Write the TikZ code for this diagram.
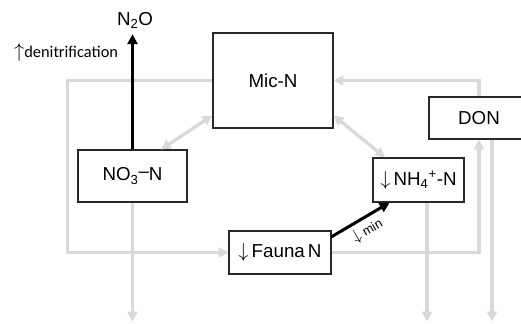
\documentclass[tikz,border=0pt]{standalone}
\usepackage{fontspec}
\setmainfont{Liberation Sans}
\newfontfamily\labelfont{Carlito}
\usepackage{tikz}
\usetikzlibrary{arrows.meta,positioning,calc}
\definecolor{flowgrey}{RGB}{217,217,217}
\definecolor{boxline}{RGB}{40,40,40}

\begin{document}
\begin{tikzpicture}[x=0.3mm,y=-0.3mm,
  box/.style={draw=boxline,line width=0.9pt,fill=white,inner sep=0pt,font=\fontsize{16}{19}\selectfont},
  flow/.style={flowgrey,line width=2.8pt,>={Triangle[length=8.5pt,width=8.5pt]}},
  flux/.style={black,line width=2.6pt,>={Triangle[length=8.5pt,width=8.5pt]}}]
\useasboundingbox (0,0) rectangle (521,323);
% pools
\node[box,minimum width=36mm,minimum height=28.5mm] (mic) at (273,80.5) {Mic-N};
\node[box,minimum width=30mm,minimum height=12.6mm] (don) at (479,118) {DON};
\node[box,minimum width=32.7mm,minimum height=15.6mm] (no3) at (132.5,176) {NO\textsubscript{3}\raisebox{.35ex}{--}N};
\node[box,minimum width=27.3mm,minimum height=13.2mm] (nh4) at (418.5,180) {$\downarrow$\,NH\textsubscript{4}\textsuperscript{+}-N};
\node[box,minimum width=30.6mm,minimum height=12.9mm] (fauna) at (280,252.5) {$\downarrow$\,Fauna\,N};
\node[font=\fontsize{16}{19}\selectfont,anchor=base,inner sep=1pt] (n2o) at (135,25) {N\textsubscript{2}O};
\node[font=\labelfont\fontsize{14}{17}\selectfont,anchor=base west,inner sep=0pt] (denit) at (14,57) {{\fontsize{17}{17}\selectfont$\uparrow$}denitrification};
% grey fluxes
\draw[flow,->] (mic.west) -- ++(-145,0) |- (fauna.west);
\draw[flow,->] (no3.south) -- ++(0,119);
\draw[flow,<->] (no3.43) -- (mic.210);
\draw[flow,<->] (mic.330) -- (nh4.146);
\draw[flow,->] (don.north) |- (mic.east);
\draw[flow,->] (fauna.east) -| (don.south);
\draw[flow,->] ($(don.south)+(13,0)$) -- ++(0,182);
\draw[flow,->] ($(nh4.south)+(8.5,0)$) -- ++(0,119);
% black fluxes
\draw[flux,->,shorten >=4pt] (no3.north) -- (no3.north |- n2o.south);
\draw[flux,->] (fauna.17) -- (nh4.218)
  node[pos=0.5,sloped,below,inner sep=3.5pt,font=\fontsize{11}{13}\selectfont] (minlbl) {{\fontsize{15}{15}\selectfont$\downarrow$} min};
\end{tikzpicture}
\end{document}
